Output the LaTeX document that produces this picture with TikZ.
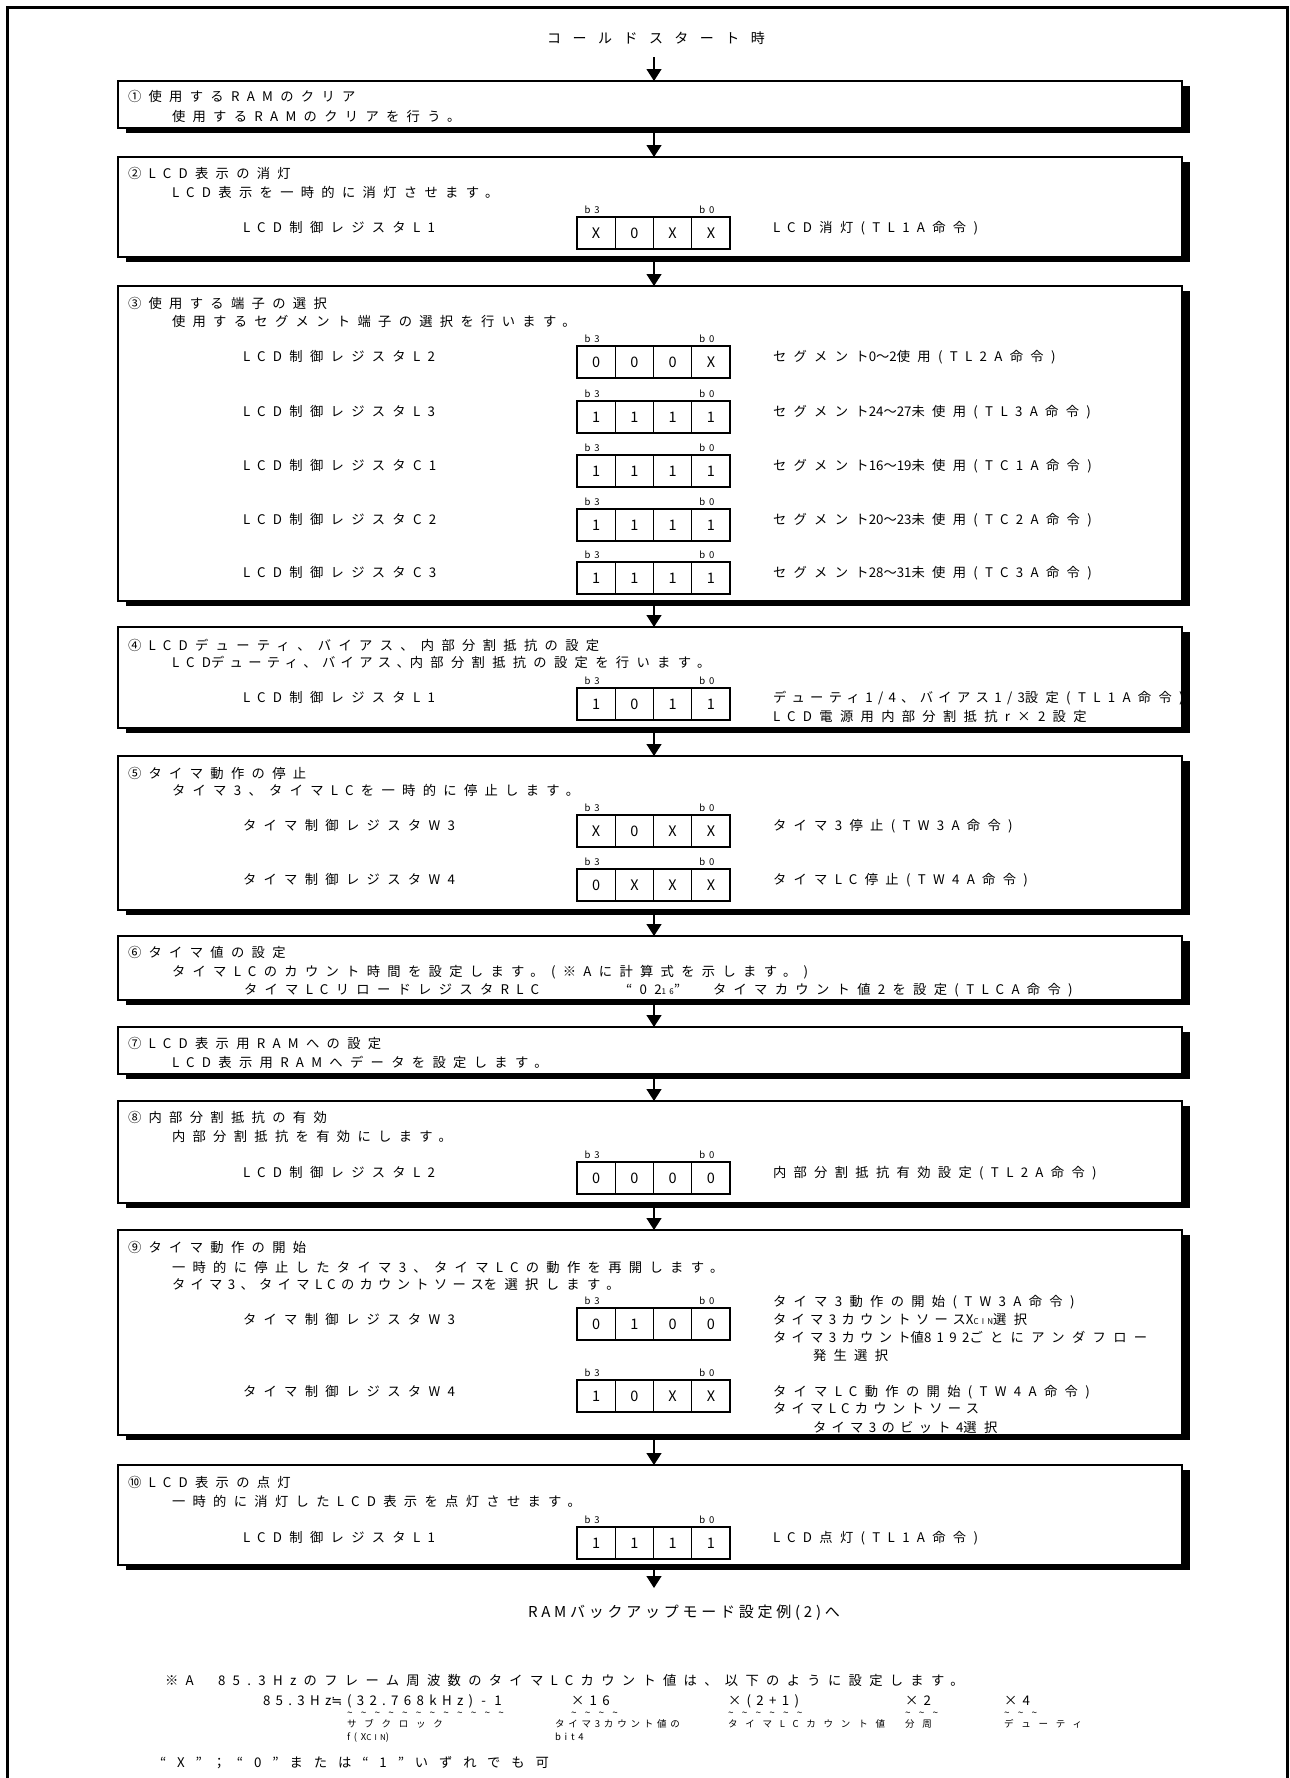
\documentclass[tikz,border=0pt]{standalone}
\usepackage{fontspec}
\setmainfont{Noto Sans CJK JP}
\newfontfamily\jbody{Noto Sans CJK JP}[LetterSpace=55]
\newfontfamily\jwide{Noto Sans CJK JP}[LetterSpace=82]
\newfontfamily\jsmall{Noto Sans CJK JP}[LetterSpace=40]
\newfontfamily\jmid{Noto Sans CJK JP}[LetterSpace=40]
\newfontfamily\jfinf{Noto Sans CJK JP}[LetterSpace=25]
\newfontfamily\jplain{Noto Sans CJK JP}
\newfontfamily\djv{DejaVu Sans}
\usetikzlibrary{arrows.meta,shadows}
\newcommand\fbody{\jbody\fontsize{13.3}{15}\selectfont}
\newcommand\ftitle{\jwide\fontsize{14}{16}\selectfont}
\newcommand\ffin{\jfinf\fontsize{15}{17}\selectfont}
\newcommand\fsubl{\jwide\fontsize{9.5}{11}\selectfont}
\newcommand\fsubm{\jsmall\fontsize{9.5}{11}\selectfont}
\newcommand\fform{\jsmall\fontsize{13.3}{15}\selectfont}
\newcommand\fnote{\jwide\fontsize{13.3}{15}\selectfont}
\newcommand\fcell{\jplain\fontsize{14.5}{16}\selectfont}
\newcommand\fbits{\jsmall\fontsize{9.5}{11}\selectfont}
\newcommand\ftld{\jwide\fontsize{10}{10}\selectfont}
\newcommand\smtxt[1]{{\jsmall\fontsize{8}{9}\selectfont #1}}
\newcommand\tg[1]{{\jplain #1}}
\newcommand\md[1]{{\jmid #1}}
\newcommand\tld{\char"7E\relax}
\newcommand\regbox[6]{%
  \node[cell] (#1-1) at (596.1,#2+16) {#3};
  \node[cell] (#1-2) at (634.4,#2+16) {#4};
  \node[cell] (#1-3) at (672.6,#2+16) {#5};
  \node[cell] (#1-4) at (710.9,#2+16) {#6};
  \node[blab] (#1-h) at ([xshift=-4pt,yshift=7pt]#1-1.north) {b3};
  \node[blab] (#1-l) at ([xshift=-4pt,yshift=7pt]#1-4.north) {b0};
}
\begin{document}
\begin{tikzpicture}[x=1pt,y=-1pt,
  box/.style={draw=black, line width=1.3pt, fill=white, minimum width=1064pt,
    anchor=north west, inner sep=0pt, outer sep=0pt,
    drop shadow={shadow xshift=8pt, shadow yshift=-5pt, fill=black, opacity=1}},
  tx/.style={anchor=west, inner sep=0pt, outer sep=0pt, text height=11pt, text depth=1pt, font=\fbody},
  cell/.style={draw=black, line width=1.3pt, minimum width=38.25pt, minimum height=32pt,
    inner sep=0pt, outer sep=0pt, font=\fcell},
  blab/.style={inner sep=0pt, font=\fbits},
  arr/.style={line width=1.3pt, -{Triangle[length=12pt,width=15pt]}},
  frame/.style={line width=3pt}]
\useasboundingbox (0,0) rectangle (1290,1778);
\fill[white] (0,0) rectangle (1290,1778);
\draw[frame] (7,1778) -- (7,7) -- (1287,7) -- (1287,1778);

\node[inner sep=0pt, text height=11pt, text depth=1pt, font=\ftitle] (title) at (656,38) {コールドスタート時};

% boxes
\node[box, minimum height=47pt]  (b1)  at (118,81)   {};
\node[box, minimum height=100pt] (b2)  at (118,157)  {};
\node[box, minimum height=315pt] (b3)  at (118,286)  {};
\node[box, minimum height=101pt] (b4)  at (118,627)  {};
\node[box, minimum height=154pt] (b5)  at (118,756)  {};
\node[box, minimum height=64pt]  (b6)  at (118,936)  {};
\node[box, minimum height=47pt]  (b7)  at (118,1027) {};
\node[box, minimum height=102pt] (b8)  at (118,1101) {};
\node[box, minimum height=205pt] (b9)  at (118,1230) {};
\node[box, minimum height=100pt] (b10) at (118,1465) {};

% arrows
\coordinate (tout) at (654,57);
\draw[arr] (tout) -- ([xshift=4pt]b1.north);
\draw[arr] ([xshift=4pt,yshift=-5pt]b1.south) -- ([xshift=4pt]b2.north);
\draw[arr] ([xshift=4pt,yshift=-5pt]b2.south) -- ([xshift=4pt]b3.north);
\draw[arr] ([xshift=4pt,yshift=-5pt]b3.south) -- ([xshift=4pt]b4.north);
\draw[arr] ([xshift=4pt,yshift=-5pt]b4.south) -- ([xshift=4pt]b5.north);
\draw[arr] ([xshift=4pt,yshift=-5pt]b5.south) -- ([xshift=4pt]b6.north);
\draw[arr] ([xshift=4pt,yshift=-5pt]b6.south) -- ([xshift=4pt]b7.north);
\draw[arr] ([xshift=4pt,yshift=-5pt]b7.south) -- ([xshift=4pt]b8.north);
\draw[arr] ([xshift=4pt,yshift=-5pt]b8.south) -- ([xshift=4pt]b9.north);
\draw[arr] ([xshift=4pt,yshift=-5pt]b9.south) -- ([xshift=4pt]b10.north);
\coordinate (finin) at (654,1588);
\draw[arr] ([xshift=4pt,yshift=-5pt]b10.south) -- (finin);

% box 1
\node[tx] (t1a) at (128,96)  {①使用するRAMのクリア};
\node[tx] (t1b) at (172,116) {使用するRAMのクリアを行う。};
% box 2
\node[tx] (t2a) at (128,173) {②LCD表示の消灯};
\node[tx] (t2b) at (172,192) {LCD表示を一時的に消灯させます。};
\node[tx] (l2)  at (243,227) {LCD制御レジスタL1};
\regbox{r2}{217}{X}{0}{X}{X}
\node[tx] (d2)  at (773,227) {LCD消灯(TL1A命令)};
% box 3
\node[tx] (t3a) at (128,303) {③使用する端子の選択};
\node[tx] (t3b) at (172,321) {使用するセグメント端子の選択を行います。};
\node[tx] (l3a) at (243,356) {LCD制御レジスタL2};
\regbox{r3a}{346}{0}{0}{0}{X}
\node[tx] (d3a) at (773,356) {セグメント\tg{0～2}使用(TL2A命令)};
\node[tx] (l3b) at (243,411) {LCD制御レジスタL3};
\regbox{r3b}{401}{1}{1}{1}{1}
\node[tx] (d3b) at (773,411) {セグメント\tg{24～27}未使用(TL3A命令)};
\node[tx] (l3c) at (243,465) {LCD制御レジスタC1};
\regbox{r3c}{455}{1}{1}{1}{1}
\node[tx] (d3c) at (773,465) {セグメント\tg{16～19}未使用(TC1A命令)};
\node[tx] (l3d) at (243,519) {LCD制御レジスタC2};
\regbox{r3d}{509}{1}{1}{1}{1}
\node[tx] (d3d) at (773,519) {セグメント\tg{20～23}未使用(TC2A命令)};
\node[tx] (l3e) at (243,572) {LCD制御レジスタC3};
\regbox{r3e}{562}{1}{1}{1}{1}
\node[tx] (d3e) at (773,572) {セグメント\tg{28～31}未使用(TC3A命令)};
% box 4
\node[tx] (t4a) at (128,645) {④LCDデューティ、バイアス、内部分割抵抗の設定};
\node[tx] (t4b) at (172,662) {LCD\md{デューティ、バイアス、}内部分割抵抗の設定を行います。};
\node[tx] (l4)  at (243,697) {LCD制御レジスタL1};
\regbox{r4}{688}{1}{0}{1}{1}
\node[tx] (d4a) at (773,697) {\md{デューティ1/4、バイアス1/3}設定(TL1A命令)};
\node[tx] (d4b) at (773,716) {LCD電源用内部分割抵抗r×2設定};
% box 5
\node[tx] (t5a) at (128,773) {⑤タイマ動作の停止};
\node[tx] (t5b) at (172,790) {タイマ3、タイマLCを一時的に停止します。};
\node[tx] (l5a) at (243,825) {タイマ制御レジスタW3};
\regbox{r5a}{815}{X}{0}{X}{X}
\node[tx] (d5a) at (773,825) {タイマ3停止(TW3A命令)};
\node[tx] (l5b) at (243,879) {タイマ制御レジスタW4};
\regbox{r5b}{869}{0}{X}{X}{X}
\node[tx] (d5b) at (773,879) {タイマLC停止(TW4A命令)};
% box 6
\node[tx] (t6a) at (128,952) {⑥タイマ値の設定};
\node[tx] (t6b) at (172,971) {タイマLCのカウント時間を設定します。(※Aに計算式を示します。)};
\node[tx] (t6c) at (244,989) {タイマLCリロードレジスタRLC};
\node[tx] (t6d) at (626,989) {“02\smtxt{16}”};
\node[tx] (t6e) at (713,989) {タイマカウント値2を設定(TLCA命令)};
% box 7
\node[tx] (t7a) at (128,1043) {⑦LCD表示用RAMへの設定};
\node[tx] (t7b) at (172,1062) {LCD表示用RAMへデータを設定します。};
% box 8
\node[tx] (t8a) at (128,1117) {⑧内部分割抵抗の有効};
\node[tx] (t8b) at (172,1136) {内部分割抵抗を有効にします。};
\node[tx] (l8)  at (243,1172) {LCD制御レジスタL2};
\regbox{r8}{1162}{0}{0}{0}{0}
\node[tx] (d8)  at (773,1172) {内部分割抵抗有効設定(TL2A命令)};
% box 9
\node[tx] (t9a) at (128,1247) {⑨タイマ動作の開始};
\node[tx] (t9b) at (172,1267) {一時的に停止したタイマ3、タイマLCの動作を再開します。};
\node[tx] (t9c) at (172,1284) {\md{タイマ3、タイマLCのカウントソース}を選択します。};
\node[tx] (l9a) at (243,1319) {タイマ制御レジスタW3};
\regbox{r9a}{1308}{0}{1}{0}{0}
\node[tx] (d9a) at (773,1301) {タイマ3動作の開始(TW3A命令)};
\node[tx] (d9b) at (773,1319) {\md{タイマ3カウントソース}X\smtxt{CIN}選択};
\node[tx] (d9c) at (773,1337) {\md{タイマ3カウント}値\md{8192}ごとにアンダフロー};
\node[tx] (d9d) at (813,1355) {発生選択};
\node[tx] (l9b) at (243,1391) {タイマ制御レジスタW4};
\regbox{r9b}{1380}{1}{0}{X}{X}
\node[tx] (d9e) at (773,1391) {タイマLC動作の開始(TW4A命令)};
\node[tx] (d9f) at (773,1408) {\md{タイマLCカウントソース}};
\node[tx] (d9g) at (813,1427) {\md{タイマ3のビット4}選択};
% box 10
\node[tx] (t10a) at (128,1482) {⑩LCD表示の点灯};
\node[tx] (t10b) at (172,1501) {一時的に消灯したLCD表示を点灯させます。};
\node[tx] (l10)  at (243,1537) {LCD制御レジスタL1};
\regbox{r10}{1527}{1}{1}{1}{1}
\node[tx] (d10)  at (773,1537) {LCD点灯(TL1A命令)};

% end
\node[inner sep=0pt, text height=13pt, text depth=1pt, font=\ffin] (fin) at (684,1611) {RAMバックアップモード設定例(2)へ};

% note
\node[tx] (na) at (165,1680) {※A};
\node[tx] (nb) at (218,1680) {85.3Hzのフレーム周波数のタイマLCカウント値は、以下のように設定します。};
\node[tx, font=\fform] (f0) at (263,1700) {85.3Hz{\djv\fontsize{13}{14}\selectfont ≒}};
\node[tx, font=\fform] (f1) at (347,1700) {(32.768kHz) - 1};
\node[tx, font=\fform] (f2) at (571,1700) {×16};
\node[tx, font=\fform] (f3) at (728,1700) {×(2+1)};
\node[tx, font=\fform] (f4) at (905,1700) {×2};
\node[tx, font=\fform] (f5) at (1004,1700) {×4};
\node[tx, font=\ftld] (w1) at (347,1711) {\tld\tld\tld\tld\tld\tld\tld\tld\tld\tld\tld\tld};
\node[tx, font=\ftld] (w2) at (571,1711) {\tld\tld\tld\tld};
\node[tx, font=\ftld] (w3) at (728,1711) {\tld\tld\tld\tld\tld\tld};
\node[tx, font=\ftld] (w4) at (905,1711) {\tld\tld\tld};
\node[tx, font=\ftld] (w5) at (1004,1711) {\tld\tld\tld};
\node[tx, font=\fsubl] (s1) at (347,1722) {サブクロック};
\node[tx, font=\fsubm] (s2) at (555,1722) {タイマ3カウント値の};
\node[tx, font=\fsubl] (s3) at (728,1722) {タイマLCカウント値};
\node[tx, font=\fsubl] (s4) at (905,1722) {分周};
\node[tx, font=\fsubl] (s5) at (1004,1722) {デューティ};
\node[tx, font=\fbits] (s6) at (347,1735) {f(X\smtxt{CIN})};
\node[tx, font=\fbits] (s7) at (555,1735) {bit4};
\node[tx, font=\fnote] (nx) at (160,1762) {“X”；“0”または“1”いずれでも可};
\end{tikzpicture}
\end{document}
